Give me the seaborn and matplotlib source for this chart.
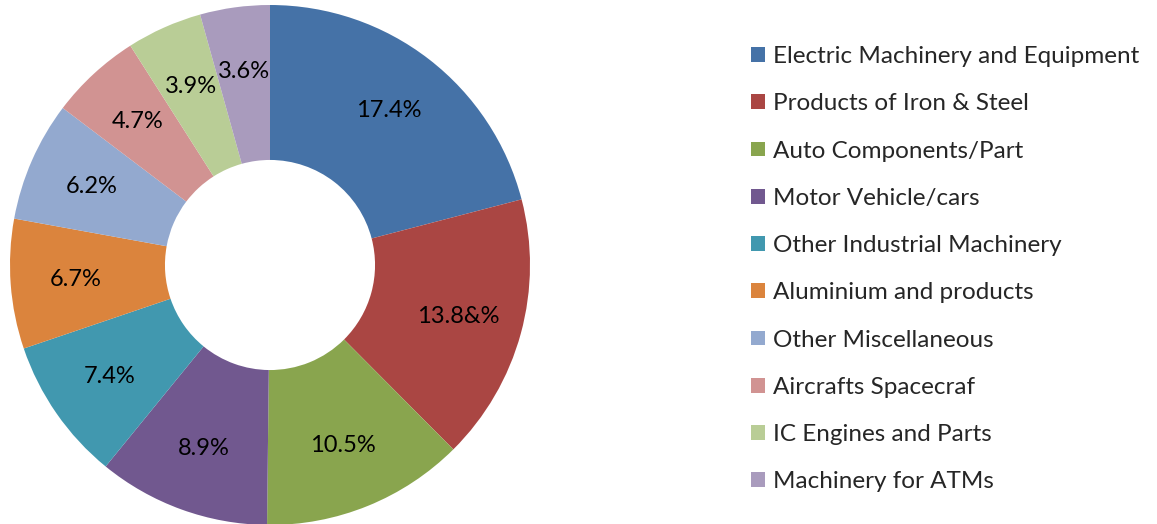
import matplotlib
matplotlib.use("Agg")
import matplotlib.pyplot as plt
import seaborn as sns

categories = [
    "Electric Machinery and Equipment",
    "Products of Iron & Steel",
    "Auto Components/Part",
    "Motor Vehicle/cars",
    "Other Industrial Machinery",
    "Aluminium and products",
    "Other Miscellaneous",
    "Aircrafts Spacecraf",
    "IC Engines and Parts",
    "Machinery for ATMs",
]
shares = [17.4, 13.8, 10.5, 8.9, 7.4, 6.7, 6.2, 4.7, 3.9, 3.6]
slice_labels = ["17.4%", "13.8&%", "10.5%", "8.9%", "7.4%",
                "6.7%", "6.2%", "4.7%", "3.9%", "3.6%"]
colors = ["#4572A7", "#AA4643", "#89A54E", "#71588F", "#4198AF",
          "#DB843D", "#93A9CF", "#D19392", "#B9CD96", "#A99BBD"]

sns.set_theme(style="white")
plt.rcParams["font.family"] = ["Lato", "DejaVu Sans"]

fig = plt.figure(figsize=(11.57, 5.24), dpi=100)
ax = fig.add_axes([8 / 1157, -3 / 524, 524 / 1157, 1.0])

# donut: labels come straight from slice_labels, in slice order
label_iter = iter(slice_labels)
wedges, _, autotexts = ax.pie(
    shares,
    colors=sns.color_palette(colors),
    startangle=90,
    counterclock=False,
    radius=1.0,
    wedgeprops=dict(width=0.596, linewidth=0),
    autopct=lambda p: next(label_iter),
    pctdistance=0.75,
    textprops=dict(fontsize=17, color="black"),
)
lim = 262 / 260
ax.set_xlim(-lim, lim)
ax.set_ylim(-lim, lim)
ax.set_aspect("equal")
ax.axis("off")

fig.legend(
    wedges, categories,
    loc="upper left",
    bbox_to_anchor=(739 / 1157, 1 - 34 / 524),
    frameon=False,
    fontsize=17.5,
    handlelength=0.55,
    handleheight=0.55,
    handletextpad=0.33,
    labelspacing=1.08,
    borderpad=0,
)

fig.savefig("out.png", dpi=100)
